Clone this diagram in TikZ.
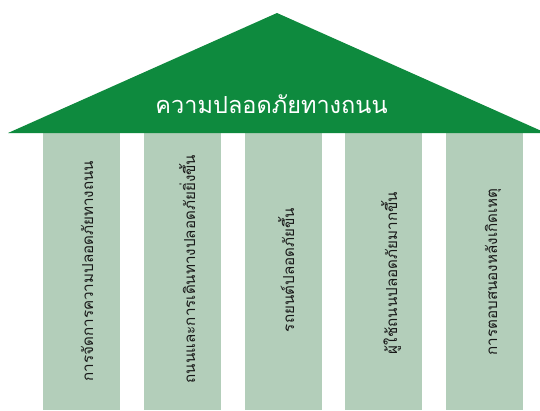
\documentclass[tikz,border=0pt]{standalone}
\usepackage{fontspec}
\newfontfamily\thaifont[Script=Thai]{Loma}
\definecolor{roofgreen}{RGB}{14,138,62}
\definecolor{pillargreen}{RGB}{179,206,186}
\begin{document}
\begin{tikzpicture}[x=1pt,y=-1pt,
  pillar/.style={fill=pillargreen,draw=none},
  ptext/.style={rotate=90,anchor=base,font=\thaifont\fontsize{15.2}{17}\selectfont,text=black!90,inner sep=0pt},
  rtext/.style={anchor=base,font=\thaifont\fontsize{23.5}{26}\selectfont,text=white,inner sep=0pt}]
\useasboundingbox (0,0) rectangle (540,410);
\clip (0,0) rectangle (540,410);
\fill[white] (0,0) rectangle (540,410);
% pillars
\foreach \i/\xl in {1/43,2/144,3/245,4/345,5/446}{
  \fill[pillar] (\xl,130) rectangle ++(77,280);
}
% roof
\fill[roofgreen] (8,133) -- (277,13) -- (546,133) -- cycle;
\node[rtext] (roof) at (271.5,113) {ความปลอดภัยทางถนน};
\node[ptext] (t1) at (93,271) {การจัดการความปลอดภัยทางถนน};
\node[ptext] (t2) at (195,269) {ถนนและการเดินทางปลอดภัยยิ่งขึ้น};
\node[ptext] (t3) at (294,270) {รถยนต์ปลอดภัยขึ้น};
\node[ptext] (t4) at (397,273) {ผู้ใช้ถนนปลอดภัยมากขึ้น};
\node[ptext] (t5) at (497,272) {การตอบสนองหลังเกิดเหตุ};
\end{tikzpicture}
\end{document}
